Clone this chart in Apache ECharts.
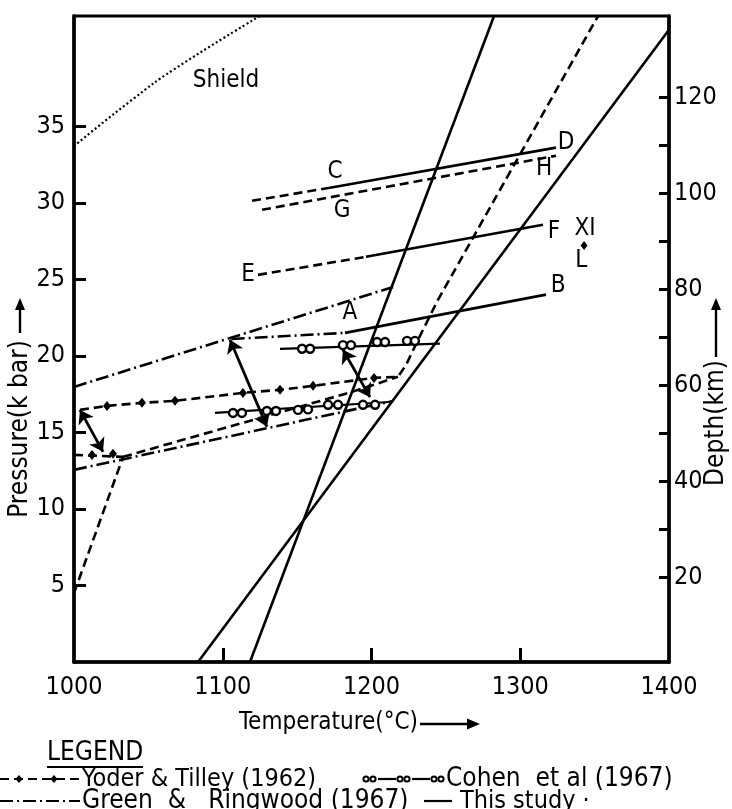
<!DOCTYPE html>
<html>
<head>
<meta charset="utf-8">
<script src="https://cdn.jsdelivr.net/npm/echarts/dist/echarts.min.js"></script>
<style>
html,body{margin:0;padding:0;background:#fff;}
#chart{width:732px;height:809px;}
</style>
</head>
<body>
<div id="chart"></div>
<script>
// ---- axis ticks ----
const xTickLabels = [1000, 1100, 1200, 1300, 1400];
const xTickMarks = [1100, 1200, 1300];
const pressureTicks = [5, 10, 15, 20, 25, 30, 35];
const depthLabels = [20, 40, 60, 80, 100, 120];
const depthTicks = [20, 30, 40, 50, 60, 70, 80, 90, 100, 110, 120];

// ---- curves: [temperature °C, pressure kbar] ----
const shield = [[1000, 33.7], [1040, 36.8], [1067, 38.7], [1125, 42.2]];
const studySteep = [[1118.3, 0], [1282.4, 42.2]];
const studyShallow = [[1083.4, 0], [1400, 41.3]];
const yoderUpper = [[1004, 16.47], [1022.2, 16.73], [1045.7, 16.93], [1067.9, 17.06], [1113.6, 17.58], [1138.5, 17.78], [1160.7, 18.04], [1201.7, 18.56], [1217.8, 18.63], [1223.2, 19.4], [1231.3, 21.05], [1244.7, 23.66], [1352.3, 42.2]];
const yoderUpperMarks = [[1022.2, 16.73], [1045.7, 16.93], [1067.9, 17.06], [1113.6, 17.58], [1138.5, 17.78], [1160.7, 18.04], [1201.7, 18.56]];
const yoderLowSteep = [[1000, 4.5], [1033, 13.4]];
const yoderLowShort = [[1000, 13.53], [1033, 13.4]];
const yoderLowShortMarks = [[1012.1, 13.53], [1026.2, 13.6]];
const yoderLowRise = [[1033, 13.4], [1127, 16.0], [1185.5, 17.6], [1217.8, 18.63]];
const greenUpper = [[1000, 17.97], [1214.5, 24.5]];
const greenLower = [[1000, 12.55], [1214.5, 17.05]];
const greenShift = [[1106, 21.1], [1182.2, 21.5]];
const lineAB = [[1182.2, 21.5], [1317.3, 24.0]];
const lineCDdash = [[1119.7, 30.13], [1172.1, 30.98]];
const lineCDsolid = [[1172.1, 30.98], [1324, 33.6]];
const lineGH = [[1126.4, 29.54], [1324, 33.07]];
const lineEFdash = [[1123.7, 25.29], [1196.3, 26.47]];
const lineEFsolid = [[1196.3, 26.47], [1315.3, 28.56]];
const cohenUpper = [[1138.5, 20.46], [1246, 20.8]];
const cohenUpperMarks = [[1153.3, 20.46], [1158.7, 20.46], [1180.8, 20.7], [1186.2, 20.7], [1203.7, 20.9], [1209.1, 20.9], [1223.9, 20.98], [1229.2, 20.98]];
const cohenLower = [[1094.8, 16.27], [1214.5, 17.0]];
const cohenLowerMarks = [[1106.9, 16.27], [1112.9, 16.27], [1129.7, 16.4], [1135.8, 16.4], [1150.6, 16.47], [1157.3, 16.5], [1170.8, 16.8], [1177.5, 16.8], [1194.3, 16.8], [1202.4, 16.8]];
const shiftArrows = [
  [[1004, 16.47], [1019.5, 13.73]],
  [[1104.9, 21.05], [1129.7, 15.36]],
  [[1180.8, 20.4], [1199, 17.3]]
];
const samplePoint = [[1342.9, 27.2]];
const curveLabels = [
  ['Shield', 1102.2, 37.97], ['C', 1175.5, 32.0], ['G', 1180.2, 29.5],
  ['D', 1330.8, 33.9], ['H', 1316, 32.2], ['E', 1117, 25.3],
  ['F', 1322.7, 28.1], ['XI', 1343.5, 28.3], ['L', 1341, 26.2],
  ['A', 1185.5, 22.8], ['B', 1325.4, 24.6]
];

const FONT = "'Liberation Sans Narrow','DejaVu Sans Condensed','Roboto Condensed','Liberation Sans',sans-serif";
const BLACK = '#000';
const DASH = [9, 5];
const DASHDOT = [13, 4, 2, 4];

function lineSeries(data, type, width) {
  return {
    type: 'line', data: data, symbol: 'none', showSymbol: false,
    lineStyle: { color: BLACK, width: width || 2.6, type: type || 'solid', opacity: 1 },
    z: 3, silent: true
  };
}
function diamondSeries(data) {
  return { type: 'scatter', data: data, symbol: 'diamond', symbolSize: [8, 10],
    itemStyle: { color: BLACK, opacity: 1 }, z: 5, silent: true };
}
function circleSeries(data) {
  return { type: 'scatter', data: data, symbol: 'circle', symbolSize: 8,
    itemStyle: { color: '#fff', borderColor: BLACK, borderWidth: 2.4, opacity: 1 }, z: 6, silent: true };
}

const chart = echarts.init(document.getElementById('chart'), null, { renderer: 'canvas' });

const series = [
  Object.assign(lineSeries(shield, [2, 2.5], 2.2), { smooth: 0.5 }),
  lineSeries(studySteep),
  lineSeries(studyShallow),
  lineSeries(yoderUpper, DASH),
  diamondSeries(yoderUpperMarks),
  lineSeries(yoderLowSteep, DASH),
  lineSeries(yoderLowShort, DASH),
  diamondSeries(yoderLowShortMarks),
  lineSeries(yoderLowRise, DASH),
  lineSeries(greenUpper, DASHDOT),
  lineSeries(greenLower, DASHDOT),
  lineSeries(greenShift, DASHDOT),
  lineSeries(lineAB),
  lineSeries(lineCDdash, DASH),
  lineSeries(lineCDsolid),
  lineSeries(lineGH, DASH),
  lineSeries(lineEFdash, DASH),
  lineSeries(lineEFsolid),
  lineSeries(cohenUpper, 'solid', 2.2),
  circleSeries(cohenUpperMarks),
  lineSeries(cohenLower, 'solid', 2.2),
  circleSeries(cohenLowerMarks),
  {
    type: 'lines', coordinateSystem: 'cartesian2d',
    data: shiftArrows.map(a => ({ coords: a })),
    symbol: ['arrow', 'arrow'], symbolSize: 13,
    lineStyle: { color: BLACK, width: 2.8, opacity: 1 }, z: 7, silent: true
  },
  { type: 'scatter', data: samplePoint, symbol: 'diamond', symbolSize: [7, 9],
    itemStyle: { color: BLACK, opacity: 1 }, z: 5, silent: true },
  {
    type: 'scatter', symbolSize: 1, itemStyle: { color: 'rgba(255,255,255,0)', opacity: 1 }, z: 8, silent: true,
    data: curveLabels.map(l => ({ name: l[0], value: [l[1], l[2]] })),
    label: { show: true, position: 'inside', formatter: '{b}', color: BLACK, opacity: 1,
      textBorderWidth: 0, fontSize: 24, fontFamily: FONT }
  }
];

function arrowUp(x, y1, y2) {
  return [
    { type: 'line', shape: { x1: x, y1: y1, x2: x, y2: y2 + 10 }, style: { stroke: BLACK, lineWidth: 2.4 } },
    { type: 'polygon', shape: { points: [[x - 5, y2 + 12], [x + 5, y2 + 12], [x, y2]] }, style: { fill: BLACK } }
  ];
}

const legendY1 = 779, legendY2 = 801;
const LFONT = '25px ' + FONT;
const graphic = [
  { type: 'text', x: 20, y: 429, rotation: Math.PI / 2,
    style: { text: 'Pressure(k bar)', font: '26px ' + FONT, fill: BLACK, align: 'center', verticalAlign: 'middle' } },
  ...arrowUp(20, 333, 298),
  { type: 'text', x: 716, y: 423, rotation: Math.PI / 2,
    style: { text: 'Depth(km)', font: '26px ' + FONT, fill: BLACK, align: 'center', verticalAlign: 'middle' } },
  ...arrowUp(716, 357, 298),
  { type: 'text', x: 239, y: 723,
    style: { text: 'Temperature(°C)', font: '24px ' + FONT, fill: BLACK, align: 'left', verticalAlign: 'middle' } },
  { type: 'line', shape: { x1: 420, y1: 724, x2: 470, y2: 724 }, style: { stroke: BLACK, lineWidth: 2.4 } },
  { type: 'polygon', shape: { points: [[467, 718.5], [467, 729.5], [480, 724]] }, style: { fill: BLACK } },
  { type: 'text', x: 47, y: 753,
    style: { text: 'LEGEND', font: '26px ' + FONT, fill: BLACK, align: 'left', verticalAlign: 'middle' } },
  { type: 'line', shape: { x1: 47, y1: 767, x2: 143, y2: 767 }, style: { stroke: BLACK, lineWidth: 2.2 } },
  // row 1
  { type: 'line', shape: { x1: 0, y1: legendY1, x2: 80, y2: legendY1 }, style: { stroke: BLACK, lineWidth: 2.2, lineDash: DASH } },
  { type: 'polygon', shape: { points: [[19, legendY1 - 4], [22.5, legendY1], [19, legendY1 + 4], [15.5, legendY1]] }, style: { fill: BLACK } },
  { type: 'polygon', shape: { points: [[54, legendY1 - 4], [57.5, legendY1], [54, legendY1 + 4], [50.5, legendY1]] }, style: { fill: BLACK } },
  { type: 'text', x: 82, y: legendY1,
    style: { text: 'Yoder & Tilley (1962)', font: LFONT, fill: BLACK, align: 'left', verticalAlign: 'middle' } },
  { type: 'line', shape: { x1: 378, y1: legendY1, x2: 396, y2: legendY1 }, style: { stroke: BLACK, lineWidth: 2.2 } },
  { type: 'line', shape: { x1: 412, y1: legendY1, x2: 430, y2: legendY1 }, style: { stroke: BLACK, lineWidth: 2.2 } },
  { type: 'circle', shape: { cx: 366, cy: legendY1, r: 2.6 }, style: { fill: '#fff', stroke: BLACK, lineWidth: 2 } },
  { type: 'circle', shape: { cx: 373, cy: legendY1, r: 2.6 }, style: { fill: '#fff', stroke: BLACK, lineWidth: 2 } },
  { type: 'circle', shape: { cx: 400, cy: legendY1, r: 2.6 }, style: { fill: '#fff', stroke: BLACK, lineWidth: 2 } },
  { type: 'circle', shape: { cx: 407, cy: legendY1, r: 2.6 }, style: { fill: '#fff', stroke: BLACK, lineWidth: 2 } },
  { type: 'circle', shape: { cx: 434, cy: legendY1, r: 2.6 }, style: { fill: '#fff', stroke: BLACK, lineWidth: 2 } },
  { type: 'circle', shape: { cx: 441, cy: legendY1, r: 2.6 }, style: { fill: '#fff', stroke: BLACK, lineWidth: 2 } },
  { type: 'text', x: 446, y: legendY1,
    style: { text: 'Cohen  et al (1967)', font: '26px ' + FONT, fill: BLACK, align: 'left', verticalAlign: 'middle' } },
  // row 2
  { type: 'line', shape: { x1: 0, y1: legendY2, x2: 80, y2: legendY2 }, style: { stroke: BLACK, lineWidth: 2.2, lineDash: DASHDOT } },
  { type: 'text', x: 82, y: legendY2,
    style: { text: 'Green  &   Ringwood (1967)', font: '26px ' + FONT, fill: BLACK, align: 'left', verticalAlign: 'middle' } },
  { type: 'line', shape: { x1: 424, y1: legendY2, x2: 452, y2: legendY2 }, style: { stroke: BLACK, lineWidth: 2.2 } },
  { type: 'text', x: 460, y: legendY2,
    style: { text: 'This study ·', font: LFONT, fill: BLACK, align: 'left', verticalAlign: 'middle' } }
];

const axisLabelStyle = { color: BLACK, fontSize: 25, fontFamily: FONT, formatter: v => String(v) };

chart.setOption({
  animation: false,
  backgroundColor: '#fff',
  grid: { left: 74, right: 63, top: 16, bottom: 147, show: true, borderColor: BLACK, borderWidth: 3, containLabel: false },
  xAxis: {
    type: 'value', min: 1000, max: 1400,
    axisLine: { show: true, lineStyle: { color: BLACK, width: 3.5 } },
    axisTick: { show: true, inside: true, length: 14, lineStyle: { color: BLACK, width: 3 }, customValues: xTickMarks },
    axisLabel: Object.assign({ margin: 13, customValues: xTickLabels }, axisLabelStyle),
    splitLine: { show: false }
  },
  yAxis: [
    {
      type: 'value', min: 0, max: 42.2, position: 'left',
      axisLine: { show: true, lineStyle: { color: BLACK, width: 3.5 } },
      axisTick: { show: true, inside: true, length: 12, lineStyle: { color: BLACK, width: 3 }, customValues: pressureTicks },
      axisLabel: Object.assign({ margin: 9, customValues: pressureTicks }, axisLabelStyle),
      splitLine: { show: false }
    },
    {
      type: 'value', min: 2.3, max: 136.9, position: 'right', alignTicks: false,
      axisLine: { show: true, lineStyle: { color: BLACK, width: 3.5 } },
      axisTick: { show: true, inside: true, length: 10, lineStyle: { color: BLACK, width: 3 }, customValues: depthTicks },
      axisLabel: Object.assign({ margin: 5, customValues: depthLabels }, axisLabelStyle),
      splitLine: { show: false }
    }
  ],
  series: series,
  graphic: graphic
});
</script>
</body>
</html>
